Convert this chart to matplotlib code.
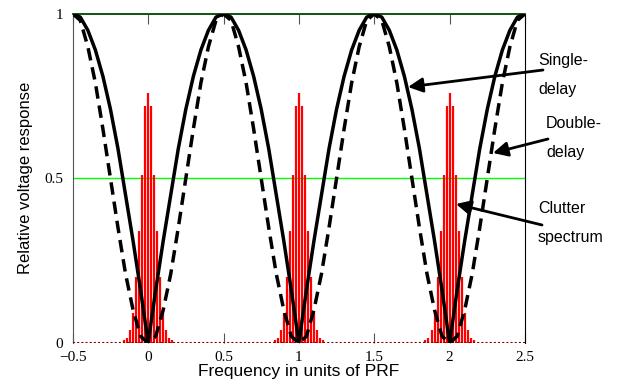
import matplotlib.pyplot as plt

# frequency grid (units of PRF), read at 0.05 steps
freq = [
    -0.50, -0.45, -0.40, -0.35, -0.30, -0.25, -0.20, -0.15, -0.10, -0.05,
    0.00, 0.05, 0.10, 0.15, 0.20, 0.25, 0.30, 0.35, 0.40, 0.45,
    0.50, 0.55, 0.60, 0.65, 0.70, 0.75, 0.80, 0.85, 0.90, 0.95,
    1.00, 1.05, 1.10, 1.15, 1.20, 1.25, 1.30, 1.35, 1.40, 1.45,
    1.50, 1.55, 1.60, 1.65, 1.70, 1.75, 1.80, 1.85, 1.90, 1.95,
    2.00, 2.05, 2.10, 2.15, 2.20, 2.25, 2.30, 2.35, 2.40, 2.45,
    2.50,
]

single_delay = [
    1.00, 0.99, 0.95, 0.89, 0.81, 0.71, 0.59, 0.45, 0.31, 0.16,
    0.00, 0.16, 0.31, 0.45, 0.59, 0.71, 0.81, 0.89, 0.95, 0.99,
    1.00, 0.99, 0.95, 0.89, 0.81, 0.71, 0.59, 0.45, 0.31, 0.16,
    0.00, 0.16, 0.31, 0.45, 0.59, 0.71, 0.81, 0.89, 0.95, 0.99,
    1.00, 0.99, 0.95, 0.89, 0.81, 0.71, 0.59, 0.45, 0.31, 0.16,
    0.00, 0.16, 0.31, 0.45, 0.59, 0.71, 0.81, 0.89, 0.95, 0.99,
    1.00,
]

double_delay = [
    1.00, 0.98, 0.90, 0.79, 0.65, 0.50, 0.35, 0.21, 0.10, 0.02,
    0.00, 0.02, 0.10, 0.21, 0.35, 0.50, 0.65, 0.79, 0.90, 0.98,
    1.00, 0.98, 0.90, 0.79, 0.65, 0.50, 0.35, 0.21, 0.10, 0.02,
    0.00, 0.02, 0.10, 0.21, 0.35, 0.50, 0.65, 0.79, 0.90, 0.98,
    1.00, 0.98, 0.90, 0.79, 0.65, 0.50, 0.35, 0.21, 0.10, 0.02,
    0.00, 0.02, 0.10, 0.21, 0.35, 0.50, 0.65, 0.79, 0.90, 0.98,
    1.00,
]

# clutter spectrum: lines around each PRF multiple
clutter_centers = [0.0, 1.0, 2.0]
clutter_offsets = [
    -0.16, -0.14, -0.12, -0.10, -0.08, -0.06, -0.04, -0.02, 0.00,
    0.02, 0.04, 0.06, 0.08, 0.10, 0.12, 0.14, 0.16,
]
clutter_heights = [
    0.008, 0.015, 0.04, 0.09, 0.20, 0.34, 0.51, 0.72, 0.76,
    0.72, 0.51, 0.34, 0.20, 0.09, 0.04, 0.015, 0.008,
]

x_ticks = [-0.5, 0, 0.5, 1, 1.5, 2, 2.5]
x_tick_labels = ["\u22120.5", "0", "0.5", "1", "1.5", "2", "2.5"]
y_ticks = [0, 0.5, 1]
y_tick_labels = ["0", "0.5", "1"]


def main() -> None:
    fig = plt.figure(figsize=(6.22, 3.84), dpi=100)
    ax = fig.add_axes([0.117, 0.107, 0.727, 0.857])

    # clutter lines
    for c in clutter_centers:
        xs = [c + o for o in clutter_offsets]
        ax.vlines(xs, 0, clutter_heights, color="red", linewidth=1.6, zorder=2)

    ax.axhline(0.5, color="#00ff00", linewidth=1.0, zorder=1)
    ax.axhline(0.0, color="#800000", linewidth=1.5, linestyle=(0, (1, 1)), zorder=3)

    ax.plot(freq, single_delay, color="black", linewidth=2.5, zorder=4)
    ax.plot(freq, double_delay, color="black", linewidth=2.5,
            linestyle=(0, (3.6, 2)), zorder=4)

    ax.set_xlim(-0.5, 2.5)
    ax.set_ylim(0, 1)

    ax.set_xticks(x_ticks)
    ax.set_xticklabels(x_tick_labels, family="Liberation Serif", fontsize=11)
    ax.set_yticks(y_ticks)
    ax.set_yticklabels(y_tick_labels, family="Liberation Serif", fontsize=11)
    ax.tick_params(axis="x", direction="in", top=True, length=7,
                   color="#555555", pad=6)
    ax.tick_params(axis="y", length=0, pad=7)

    ax.spines["left"].set_color("#555555")
    ax.spines["right"].set_color("black")
    ax.spines["top"].set_color("#004400")
    ax.spines["top"].set_linewidth(1.3)
    ax.spines["bottom"].set_visible(False)

    ax.set_xlabel("Frequency in units of PRF", family="Liberation Sans",
                  fontsize=12.5, labelpad=0)
    ax.set_ylabel("Relative voltage response", family="Liberation Sans",
                  fontsize=12, labelpad=8)

    # annotations, placed in figure pixel coords
    arrow = dict(arrowstyle="-|>", color="black", linewidth=2,
                 mutation_scale=22, shrinkA=0, shrinkB=0)
    tfont = dict(family="Liberation Sans", fontsize=11.5, linespacing=2.1,
                 ha="left", va="center")

    def px(x, y):
        return (x / 622, 1 - y / 384)

    fig.text(*px(538, 75), "Single-\ndelay", **tfont)
    ax.annotate("", xy=px(408, 87), xytext=px(543, 70),
                xycoords="figure fraction", textcoords="figure fraction",
                arrowprops=arrow)

    fig.text(*px(546, 138), "Double-\ndelay", **tfont)
    ax.annotate("", xy=px(493, 153), xytext=px(548, 139),
                xycoords="figure fraction", textcoords="figure fraction",
                arrowprops=arrow)

    fig.text(*px(538, 223), "Clutter\nspectrum", **tfont)
    ax.annotate("", xy=px(456, 204), xytext=px(542, 225),
                xycoords="figure fraction", textcoords="figure fraction",
                arrowprops=arrow)

    fig.savefig("out.png", dpi=100)
    plt.close(fig)


if __name__ == "__main__":
    main()
